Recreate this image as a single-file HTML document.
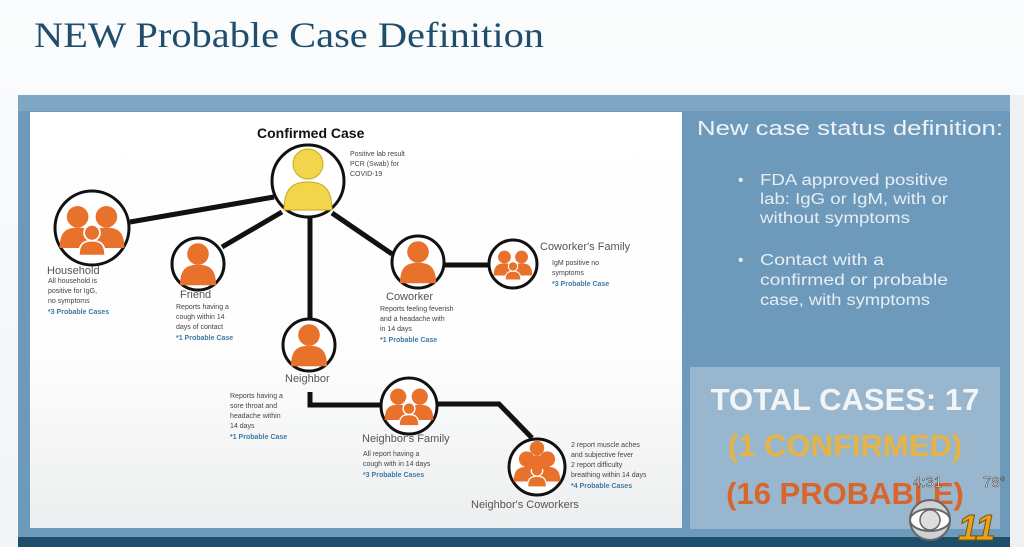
<!DOCTYPE html>
<html><head><meta charset="utf-8"><style>
html,body{margin:0;padding:0;background:#f7f8fa;}
svg{display:block}
</style></head><body>
<svg width="1024" height="547" viewBox="0 0 1024 547" xmlns="http://www.w3.org/2000/svg" font-family="Liberation Sans, sans-serif">
<defs>
<linearGradient id="bg" x1="0" y1="0" x2="0" y2="1"><stop offset="0" stop-color="#fbfcfd"/><stop offset="1" stop-color="#f2f4f6"/></linearGradient>
<linearGradient id="wh" x1="0" y1="0" x2="0" y2="1"><stop offset="0" stop-color="#ffffff"/><stop offset="0.6" stop-color="#fdfdfd"/><stop offset="1" stop-color="#eceeef"/></linearGradient>
<g id="p1"><circle cx="0" cy="-10" r="9"/><path d="M-15,16 C-15,2 -9,-1 0,-1 C9,-1 15,2 15,16 Z"/></g>
<g id="p3"><g transform="translate(-9,-2) scale(0.75)"><use href="#p1"/></g><g transform="translate(9,-2) scale(0.75)"><use href="#p1"/></g><g transform="translate(0,6) scale(0.55)"><use href="#p1" stroke="#fff" stroke-width="2"/></g></g>
</defs>
<rect width="1024" height="547" fill="url(#bg)"/>
<text x="34" y="47" font-family="Liberation Serif, serif" font-size="36" fill="#1f4d6c" textLength="510" lengthAdjust="spacingAndGlyphs">NEW Probable Case Definition</text>
<rect x="18" y="95" width="992" height="445" fill="#6d9abb"/>
<rect x="18" y="95" width="992" height="16" fill="#7fa6c3"/>
<rect x="30" y="112" width="652" height="416" fill="url(#wh)"/>
<rect x="18" y="537" width="992" height="10" fill="#1d4e6b"/>
<rect x="1010" y="95" width="14" height="452" fill="#eef0f2"/>
<g stroke="#111" stroke-width="5" fill="none">
<line x1="274" y1="197" x2="130" y2="222"/>
<line x1="282" y1="212" x2="222" y2="247"/>
<line x1="310" y1="216" x2="310" y2="320"/>
<line x1="332" y1="213" x2="392" y2="254"/>
<line x1="444" y1="265" x2="490" y2="265"/>
<polyline points="310,392 310,405 381,405"/>
<polyline points="438,404 499,404 532,438"/>
</g>
<g fill="#fff" stroke="#111" stroke-width="3">
<circle cx="308" cy="181" r="36"/>
<circle cx="92" cy="228" r="37"/>
<circle cx="198" cy="264" r="26"/>
<circle cx="418" cy="262" r="26"/>
<circle cx="513" cy="264" r="24"/>
<circle cx="309" cy="345" r="26"/>
<circle cx="409" cy="406" r="28"/>
<circle cx="537" cy="467" r="28"/>
</g>
<g fill="#f2d54a" stroke="#c9a91e" stroke-width="1"><circle cx="308" cy="164" r="15"/><path d="M284,210 C284,187 294,182 308,182 C322,182 332,187 332,210 Z"/></g>
<g fill="#e8712c">
<g transform="translate(92,232) scale(1.6)"><use href="#p3"/></g>
<g transform="translate(198,266) scale(1.2)"><use href="#p1"/></g>
<g transform="translate(418,264) scale(1.2)"><use href="#p1"/></g>
<g transform="translate(309,347) scale(1.2)"><use href="#p1"/></g>
<g transform="translate(513,266) scale(0.95)"><use href="#p3"/></g>
<g transform="translate(409,408) scale(1.2)"><use href="#p3"/></g>
<g transform="translate(537,470) scale(1.15)"><use href="#p3"/><g transform="translate(0,-12) scale(0.7)"><use href="#p1"/></g></g>
</g>
<text x="257" y="138" font-size="14" font-weight="bold" fill="#111">Confirmed Case</text>
<g font-size="7" fill="#444">
<text x="350" y="156">Positive lab result</text><text x="350" y="166">PCR (Swab) for</text><text x="350" y="176">COVID-19</text>
<text x="48" y="283">All household is</text><text x="48" y="293">positive for IgG,</text><text x="48" y="303">no symptoms</text>
<text x="176" y="309">Reports having a</text><text x="176" y="319">cough within 14</text><text x="176" y="329">days of contact</text>
<text x="380" y="311">Reports feeling feverish</text><text x="380" y="321">and a headache with</text><text x="380" y="331">in 14 days</text>
<text x="552" y="265">IgM positive no</text><text x="552" y="275">symptoms</text>
<text x="230" y="398">Reports having a</text><text x="230" y="408">sore throat and</text><text x="230" y="418">headache within</text><text x="230" y="428">14 days</text>
<text x="363" y="456">All report having a</text><text x="363" y="466">cough with in 14 days</text>
<text x="571" y="447">2 report muscle aches</text><text x="571" y="457">and subjective fever</text><text x="571" y="467">2 report difficulty</text><text x="571" y="477">breathing within 14 days</text>
</g>
<g font-size="7" font-weight="bold" fill="#3f7aa3">
<text x="48" y="314">*3 Probable Cases</text>
<text x="176" y="340">*1 Probable Case</text>
<text x="380" y="342">*1 Probable Case</text>
<text x="552" y="286">*3 Probable Case</text>
<text x="230" y="439">*1 Probable Case</text>
<text x="363" y="477">*3 Probable Cases</text>
<text x="571" y="488">*4 Probable Cases</text>
</g>
<g font-size="11" fill="#555">
<text x="47" y="274">Household</text>
<text x="180" y="298">Friend</text>
<text x="386" y="300">Coworker</text>
<text x="540" y="250">Coworker's Family</text>
<text x="285" y="382">Neighbor</text>
<text x="362" y="442">Neighbor's Family</text>
<text x="471" y="508">Neighbor's Coworkers</text>
</g>
<text x="697" y="135" font-size="20" fill="#eef3f7" textLength="306" lengthAdjust="spacingAndGlyphs">New case status definition:</text>
<g font-size="15.5" fill="#e6eef4" lengthAdjust="spacingAndGlyphs">
<text x="738" y="185">•</text><text x="760" y="185" textLength="188" lengthAdjust="spacingAndGlyphs">FDA approved positive</text><text x="760" y="204" textLength="188" lengthAdjust="spacingAndGlyphs">lab: IgG or IgM, with or</text><text x="760" y="223" textLength="150" lengthAdjust="spacingAndGlyphs">without symptoms</text>
<text x="738" y="265">•</text><text x="760" y="265" textLength="124" lengthAdjust="spacingAndGlyphs">Contact with a</text><text x="760" y="285" textLength="188" lengthAdjust="spacingAndGlyphs">confirmed or probable</text><text x="760" y="305" textLength="170" lengthAdjust="spacingAndGlyphs">case, with symptoms</text>
</g>
<rect x="690" y="367" width="310" height="162" fill="#98b6cd"/>
<g font-size="31" font-weight="bold" text-anchor="middle">
<text x="845" y="410" fill="#f2f5f7">TOTAL CASES: 17</text>
<text x="845" y="456" fill="#e7b444">(1 CONFIRMED)</text>
<text x="845" y="504" fill="#d8662c">(16 PROBABLE)</text>
</g>
<g font-size="15" fill="#fff" stroke="#333" stroke-width="0.5">
<text x="913" y="487">4:31</text><text x="983" y="487">78°</text>
</g>
<g><circle cx="930" cy="520" r="20" fill="#cfd2d5" stroke="#666" stroke-width="2"/><ellipse cx="930" cy="520" rx="20" ry="11" fill="#fff" stroke="#666" stroke-width="2"/><circle cx="930" cy="520" r="10" fill="#ddd" stroke="#666" stroke-width="1.5"/></g>
<text x="958" y="540" font-size="36" font-weight="bold" font-style="italic" fill="#e9a21f" stroke="#7a5500" stroke-width="1">11</text>
</svg>
</body></html>
